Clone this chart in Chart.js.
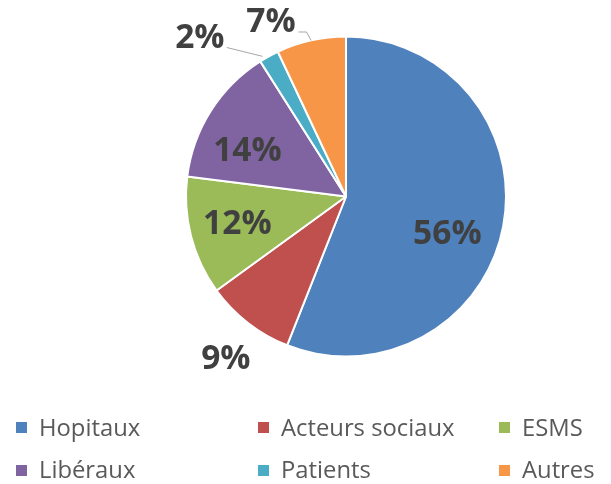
<!DOCTYPE html>
<html>
<head>
<meta charset="utf-8">
<script src="https://cdn.jsdelivr.net/npm/chart.js@4/dist/chart.umd.min.js"></script>
<style>
  html, body { margin: 0; padding: 0; background: #fff; }
  #wrap { position: relative; width: 611px; height: 484px; overflow: hidden; }
  #c { position: absolute; left: 0; top: 0; }
  .lg { position: absolute; display: flex; align-items: center; font-family: "Open Sans", sans-serif; font-size: 23.8px; color: #595959; white-space: nowrap; line-height: 1; }
  .lg span.box { display: inline-block; width: 11px; height: 11px; margin-right: 12px; }
</style>
</head>
<body>
<div id="wrap">
  <canvas id="c" width="611" height="484"></canvas>
</div>
<script>
// ---- data ----
const categories = ['Hopitaux', 'Acteurs sociaux', 'ESMS', 'Libéraux', 'Patients', 'Autres'];
const shares = [56, 9, 12, 14, 2, 7];
const percentLabels = ['56%', '9%', '12%', '14%', '2%', '7%'];

// ---- styles ----
const sliceColors = ['#4F81BD', '#C0504D', '#9BBB59', '#8064A2', '#4BACC6', '#F79646'];
// label placement: radius factor, angle shift (deg, clockwise), leader line
const labelPlacement = [
  { r: 0.675, da: 9.4 },
  { r: 1.26, da: -1.2 },
  { r: 0.70, da: 0.4 },
  { r: 0.68, da: -7.4 },
  { r: 1.35, da: -13.8, leader: { sx: 27, sy: 10, elbow: 0, endR: 1.02, endDa: -2 } },
  { r: 1.19, da: -10.6, leader: { sx: 27.5, sy: 10.5, elbow: 8, endR: 1.0, endDa: 0 } }
];
const legendCols = [16, 258, 499];
const legendRows = [427.5, 470];

const labelPlugin = {
  id: 'pctLabels',
  afterDatasetsDraw(chart) {
    const ctx = chart.ctx;
    const meta = chart.getDatasetMeta(0);
    ctx.save();
    ctx.font = 'bold 33.5px "Open Sans", sans-serif';
    ctx.fillStyle = '#404040';
    ctx.textAlign = 'center';
    ctx.textBaseline = 'middle';
    meta.data.forEach((arc, i) => {
      const p = arc.getProps(['x', 'y', 'startAngle', 'endAngle', 'outerRadius'], true);
      const pl = labelPlacement[i];
      const mid = (p.startAngle + p.endAngle) / 2;
      const a = mid + pl.da * Math.PI / 180;
      const lx = p.x + Math.cos(a) * p.outerRadius * pl.r;
      const ly = p.y + Math.sin(a) * p.outerRadius * pl.r;
      if (pl.leader) {
        const L = pl.leader;
        const ea = mid + L.endDa * Math.PI / 180;
        const ex = p.x + Math.cos(ea) * p.outerRadius * L.endR;
        const ey = p.y + Math.sin(ea) * p.outerRadius * L.endR;
        ctx.beginPath();
        ctx.strokeStyle = '#A6A6A6';
        ctx.lineWidth = 1;
        ctx.moveTo(lx + L.sx, ly + L.sy);
        if (L.elbow) ctx.lineTo(lx + L.sx + L.elbow, ly + L.sy);
        ctx.lineTo(ex, ey);
        ctx.stroke();
      }
      ctx.fillText(percentLabels[i], lx, ly + 1);
    });
    ctx.restore();
  }
};

new Chart(document.getElementById('c'), {
  type: 'pie',
  data: {
    labels: categories,
    datasets: [{
      data: shares,
      backgroundColor: sliceColors,
      borderColor: '#ffffff',
      borderWidth: 2
    }]
  },
  options: {
    responsive: false,
    animation: false,
    events: [],
    layout: { padding: { left: 185, right: 104, top: 35.5, bottom: 126.5 } },
    plugins: { legend: { display: false }, tooltip: { enabled: false } }
  },
  plugins: [labelPlugin]
});

// legend (HTML text)
const wrap = document.getElementById('wrap');
categories.forEach((name, i) => {
  const d = document.createElement('div');
  d.className = 'lg';
  const col = i % 3, row = Math.floor(i / 3);
  d.style.left = legendCols[col] + 'px';
  d.style.top = (legendRows[row] - 14) + 'px';
  d.style.height = '28px';
  const b = document.createElement('span');
  b.className = 'box';
  b.style.background = sliceColors[i];
  const t = document.createElement('span');
  t.textContent = name;
  d.appendChild(b); d.appendChild(t);
  wrap.appendChild(d);
});
</script>
</body>
</html>
